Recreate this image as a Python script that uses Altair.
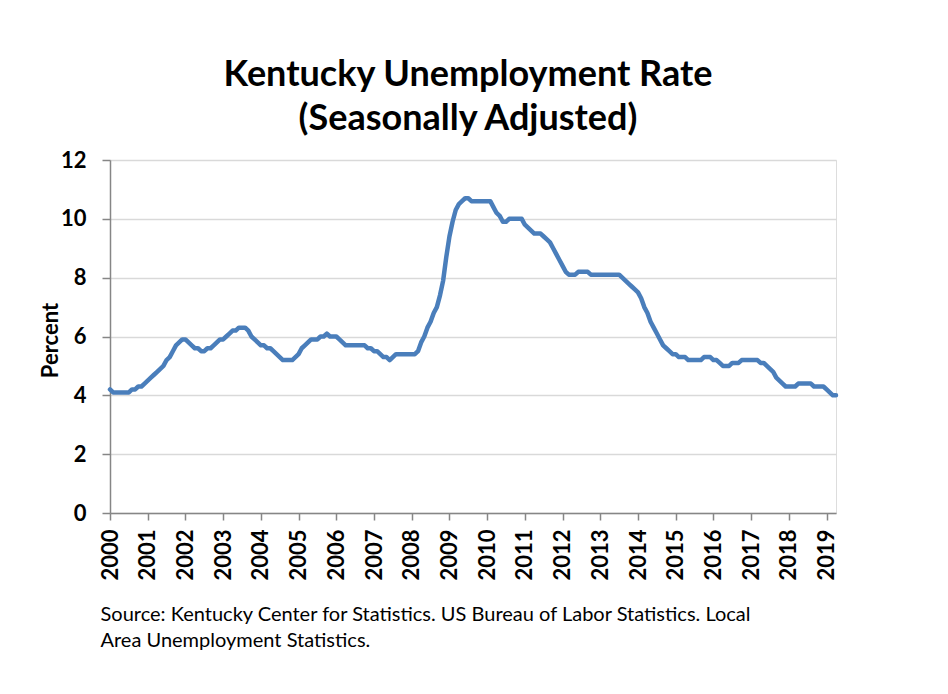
import altair as alt
import pandas as pd

# Monthly seasonally adjusted unemployment rate, Jan 2000 onward
y2000 = [4.2, 4.1, 4.1, 4.1, 4.1, 4.1, 4.1, 4.2, 4.2, 4.3, 4.3, 4.4]
y2001 = [4.5, 4.6, 4.7, 4.8, 4.9, 5.0, 5.2, 5.3, 5.5, 5.7, 5.8, 5.9]
y2002 = [5.9, 5.8, 5.7, 5.6, 5.6, 5.5, 5.5, 5.6, 5.6, 5.7, 5.8, 5.9]
y2003 = [5.9, 6.0, 6.1, 6.2, 6.2, 6.3, 6.3, 6.3, 6.2, 6.0, 5.9, 5.8]
y2004 = [5.7, 5.7, 5.6, 5.6, 5.5, 5.4, 5.3, 5.2, 5.2, 5.2, 5.2, 5.3]
y2005 = [5.4, 5.6, 5.7, 5.8, 5.9, 5.9, 5.9, 6.0, 6.0, 6.1, 6.0, 6.0]
y2006 = [6.0, 5.9, 5.8, 5.7, 5.7, 5.7, 5.7, 5.7, 5.7, 5.7, 5.6, 5.6]
y2007 = [5.5, 5.5, 5.4, 5.3, 5.3, 5.2, 5.3, 5.4, 5.4, 5.4, 5.4, 5.4]
y2008 = [5.4, 5.4, 5.5, 5.8, 6.0, 6.3, 6.5, 6.8, 7.0, 7.4, 7.9, 8.7]
y2009 = [9.4, 9.9, 10.3, 10.5, 10.6, 10.7, 10.7, 10.6, 10.6, 10.6, 10.6, 10.6]
y2010 = [10.6, 10.6, 10.4, 10.2, 10.1, 9.9, 9.9, 10.0, 10.0, 10.0, 10.0, 10.0]
y2011 = [9.8, 9.7, 9.6, 9.5, 9.5, 9.5, 9.4, 9.3, 9.2, 9.0, 8.8, 8.6]
y2012 = [8.4, 8.2, 8.1, 8.1, 8.1, 8.2, 8.2, 8.2, 8.2, 8.1, 8.1, 8.1]
y2013 = [8.1, 8.1, 8.1, 8.1, 8.1, 8.1, 8.1, 8.0, 7.9, 7.8, 7.7, 7.6]
y2014 = [7.5, 7.3, 7.0, 6.8, 6.5, 6.3, 6.1, 5.9, 5.7, 5.6, 5.5, 5.4]
y2015 = [5.4, 5.3, 5.3, 5.3, 5.2, 5.2, 5.2, 5.2, 5.2, 5.3, 5.3, 5.3]
y2016 = [5.2, 5.2, 5.1, 5.0, 5.0, 5.0, 5.1, 5.1, 5.1, 5.2, 5.2, 5.2]
y2017 = [5.2, 5.2, 5.2, 5.1, 5.1, 5.0, 4.9, 4.8, 4.6, 4.5, 4.4, 4.3]
y2018 = [4.3, 4.3, 4.3, 4.4, 4.4, 4.4, 4.4, 4.4, 4.3, 4.3, 4.3, 4.3]
y2019 = [4.2, 4.1, 4.0, 4.0]

year_tick_labels = list(range(2000, 2020))
y_ticks = [0, 2, 4, 6, 8, 10, 12]

title_lines = ["Kentucky Unemployment Rate", "(Seasonally Adjusted)"]
source_lines = [
    "Source: Kentucky Center for Statistics. US Bureau of Labor Statistics. Local",
    "Area Unemployment Statistics.",
]

series = (y2000 + y2001 + y2002 + y2003 + y2004 + y2005 + y2006 + y2007 + y2008
          + y2009 + y2010 + y2011 + y2012 + y2013 + y2014 + y2015 + y2016
          + y2017 + y2018 + y2019)
df = pd.DataFrame({
    "t": [2000 + i / 12 for i in range(len(series))],
    "rate": series,
})
t_max = 2000 + (len(series) - 1) / 12

FONT = "Lato"

chart = alt.Chart(df).mark_line(
    color="#4a7ebb", strokeWidth=4.5, strokeCap="round", strokeJoin="round"
).encode(
    x=alt.X(
        "t:Q",
        scale=alt.Scale(domain=[2000, t_max], nice=False, zero=False),
        axis=alt.Axis(
            values=year_tick_labels,
            format="d",
            labelAngle=270,
            labelFont=FONT,
            labelFontWeight="bold",
            labelFontSize=22,
            labelColor="black",
            labelPadding=9,
            labelFlush=False,
            labelOverlap=False,
            tickSize=7,
            tickColor="#868686",
            tickWidth=1.5,
            domainColor="#868686",
            domainWidth=1.5,
            grid=False,
            title=source_lines,
            titleFont=FONT,
            titleFontWeight="normal",
            titleFontSize=20,
            titleColor="black",
            titleAnchor="start",
            titleAlign="left",
            titleBaseline="alphabetic",
            titleLineHeight=26,
            titleX=-10,
            titleY=107,
        ),
    ),
    y=alt.Y(
        "rate:Q",
        scale=alt.Scale(domain=[0, 12], nice=False),
        axis=alt.Axis(
            values=y_ticks,
            labelFont=FONT,
            labelFontWeight="bold",
            labelFontSize=22,
            labelColor="black",
            labelPadding=16,
            tickSize=8,
            tickColor="#868686",
            tickWidth=1.5,
            domainColor="#868686",
            domainWidth=1.5,
            gridColor="#d9d9d9",
            gridWidth=1.5,
            title="Percent",
            titleFont=FONT,
            titleFontWeight="bold",
            titleFontSize=22,
            titleColor="black",
            titleAngle=270,
            titleBaseline="middle",
            titleAlign="center",
            titleX=-60,
            titleY=180,
        ),
    ),
).properties(
    width=726,
    height=353,
    title=alt.TitleParams(
        text=title_lines,
        font=FONT,
        fontWeight="bold",
        fontSize=36,
        color="black",
        anchor="middle",
        frame="group",
        lineHeight=44,
        baseline="bottom",
        offset=-25,
        dx=-5,
    ),
    autosize=alt.AutoSizeParams(type="none"),
    padding={"left": 110, "top": 160, "right": 112, "bottom": 181},
).configure_view(stroke=None).configure(background="white")

chart.save("out.html", embed_options={"renderer": "svg", "actions": False})
